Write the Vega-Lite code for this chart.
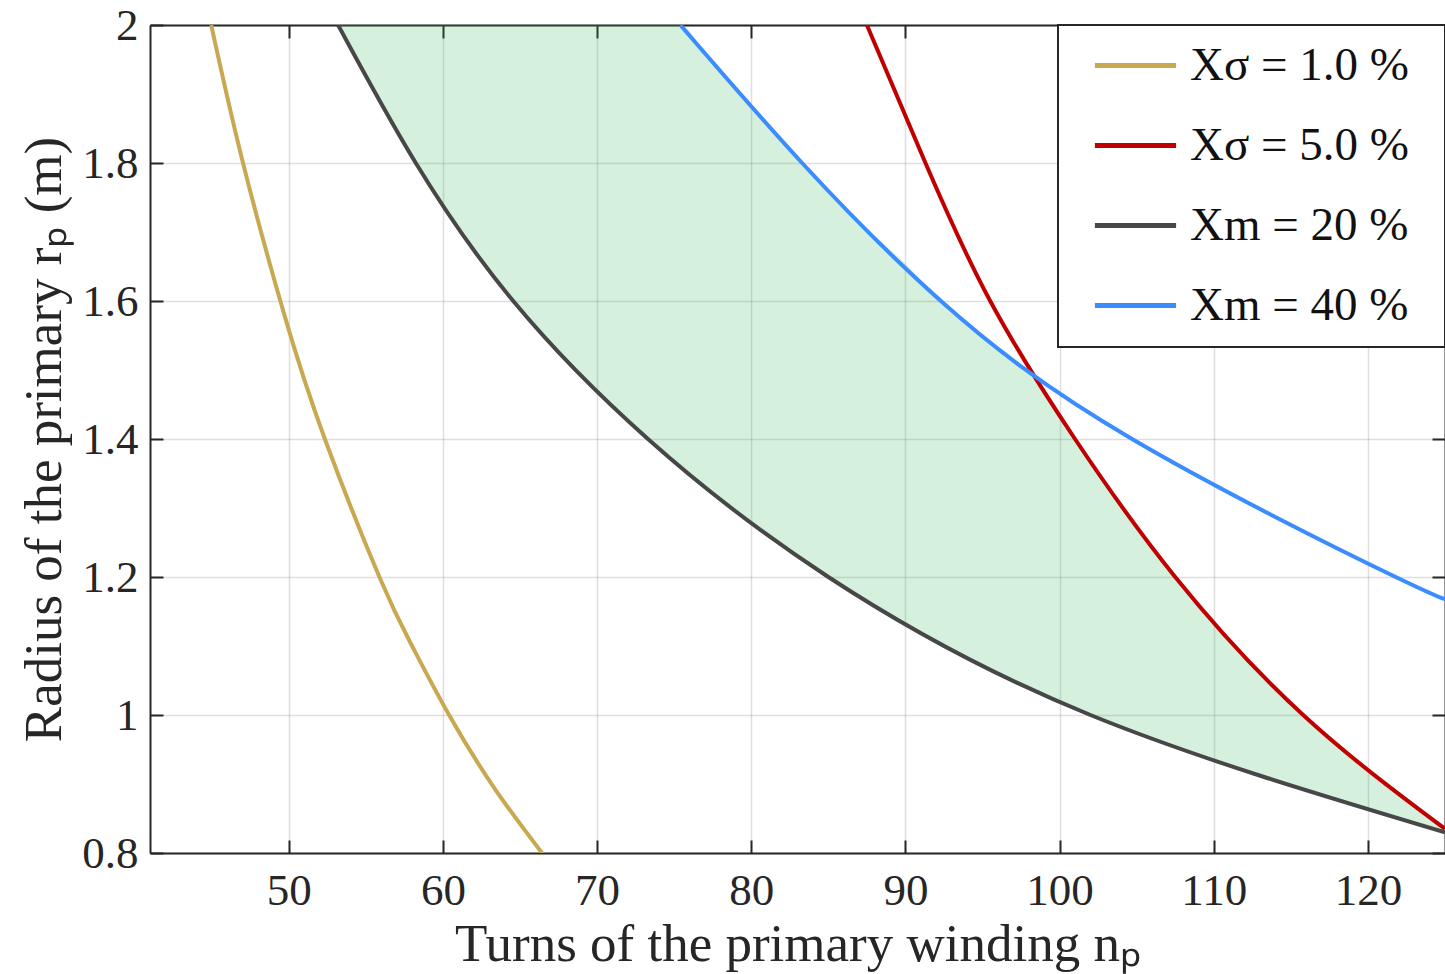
{
  "$schema": "https://vega.github.io/schema/vega-lite/v6.json",
  "width": 1295,
  "height": 828,
  "autosize": "none",
  "padding": {"left": 150, "top": 25, "right": 0, "bottom": 121},
  "background": "white",
  "config": {
    "font": "Liberation Serif",
    "view": {"stroke": null},
    "axis": {
      "domainColor": "#262626",
      "domainWidth": 2,
      "tickColor": "#262626",
      "tickWidth": 2,
      "tickSize": -13,
      "gridColor": "#262626",
      "gridOpacity": 0.15,
      "gridWidth": 1.5,
      "labelFont": "Liberation Serif",
      "labelFontSize": 45,
      "labelColor": "#262626",
      "titleFont": "Liberation Serif",
      "titleFontSize": 53,
      "titleFontWeight": "normal",
      "titleColor": "#262626"
    }
  },
  "datasets": {
    "lines": [
      {"series": "Xσ = 1.0 %", "n": 44.97, "r": 2.0},
      {"series": "Xσ = 1.0 %", "n": 47.0, "r": 1.803},
      {"series": "Xσ = 1.0 %", "n": 49.7, "r": 1.581},
      {"series": "Xσ = 1.0 %", "n": 52.36, "r": 1.399},
      {"series": "Xσ = 1.0 %", "n": 55.9, "r": 1.199},
      {"series": "Xσ = 1.0 %", "n": 58.0, "r": 1.1},
      {"series": "Xσ = 1.0 %", "n": 60.4, "r": 1.0},
      {"series": "Xσ = 1.0 %", "n": 63.4, "r": 0.892},
      {"series": "Xσ = 1.0 %", "n": 66.6, "r": 0.795},
      {"series": "Xσ = 5.0 %", "n": 87.5, "r": 2.0},
      {"series": "Xσ = 5.0 %", "n": 91.3, "r": 1.8},
      {"series": "Xσ = 5.0 %", "n": 95.5, "r": 1.6},
      {"series": "Xσ = 5.0 %", "n": 101.0, "r": 1.4},
      {"series": "Xσ = 5.0 %", "n": 107.5, "r": 1.2},
      {"series": "Xσ = 5.0 %", "n": 115.8, "r": 1.0},
      {"series": "Xσ = 5.0 %", "n": 125.0, "r": 0.835},
      {"series": "Xm = 20 %", "n": 53.2, "r": 2.0},
      {"series": "Xm = 20 %", "n": 58.24, "r": 1.8},
      {"series": "Xm = 20 %", "n": 64.56, "r": 1.6},
      {"series": "Xm = 20 %", "n": 73.3, "r": 1.4},
      {"series": "Xm = 20 %", "n": 85.0, "r": 1.2},
      {"series": "Xm = 20 %", "n": 102.0, "r": 1.0},
      {"series": "Xm = 20 %", "n": 125.0, "r": 0.83},
      {"series": "Xm = 40 %", "n": 75.4, "r": 2.0},
      {"series": "Xm = 40 %", "n": 83.3, "r": 1.8},
      {"series": "Xm = 40 %", "n": 92.3, "r": 1.6},
      {"series": "Xm = 40 %", "n": 104.7, "r": 1.4},
      {"series": "Xm = 40 %", "n": 121.8, "r": 1.2},
      {"series": "Xm = 40 %", "n": 125.0, "r": 1.172}
    ],
    "band": [
      {"n": 53.2, "lo": 2.0, "hi": 2.0},
      {"n": 55.5, "lo": 1.904, "hi": 2.0},
      {"n": 58.24, "lo": 1.8, "hi": 2.0},
      {"n": 61.0, "lo": 1.707, "hi": 2.0},
      {"n": 64.56, "lo": 1.6, "hi": 2.0},
      {"n": 70.0, "lo": 1.469, "hi": 2.0},
      {"n": 73.3, "lo": 1.4, "hi": 2.0},
      {"n": 75.4, "lo": 1.359, "hi": 2.0},
      {"n": 77.2, "lo": 1.3265, "hi": 1.951},
      {"n": 79.0, "lo": 1.295, "hi": 1.904},
      {"n": 83.3, "lo": 1.226, "hi": 1.8},
      {"n": 85.0, "lo": 1.2, "hi": 1.76},
      {"n": 88.0, "lo": 1.159, "hi": 1.695},
      {"n": 90.0, "lo": 1.133, "hi": 1.654},
      {"n": 92.3, "lo": 1.105, "hi": 1.6},
      {"n": 95.0, "lo": 1.074, "hi": 1.551},
      {"n": 98.4, "lo": 1.036, "hi": 1.488},
      {"n": 101.0, "lo": 1.01, "hi": 1.4},
      {"n": 104.0, "lo": 0.982, "hi": 1.303},
      {"n": 107.5, "lo": 0.953, "hi": 1.2},
      {"n": 111.5, "lo": 0.922, "hi": 1.097},
      {"n": 115.8, "lo": 0.89, "hi": 1.0},
      {"n": 120.0, "lo": 0.862, "hi": 0.9165},
      {"n": 125.0, "lo": 0.83, "hi": 0.835}
    ]
  },
  "layer": [
    {
      "data": {"name": "band"},
      "mark": {"type": "area", "interpolate": "monotone", "color": "#2EB85C", "opacity": 0.2, "clip": true},
      "encoding": {
        "x": {
          "field": "n", "type": "quantitative",
          "scale": {"domain": [41, 125], "nice": false, "zero": false},
          "axis": {"orient": "top", "labels": false, "grid": false, "title": null, "values": [50, 60, 70, 80, 90, 100, 110, 120]}
        },
        "y": {
          "field": "hi", "type": "quantitative",
          "scale": {"domain": [0.8, 2], "nice": false, "zero": false},
          "axis": {"orient": "right", "labels": false, "grid": false, "title": null, "values": [0.8, 1, 1.2, 1.4, 1.6, 1.8, 2]}
        },
        "y2": {"field": "lo"}
      }
    },
    {
      "data": {"name": "lines"},
      "mark": {"type": "line", "interpolate": "natural", "strokeWidth": 4, "clip": true},
      "encoding": {
        "x": {
          "field": "n", "type": "quantitative",
          "scale": {"domain": [41, 125], "nice": false, "zero": false},
          "axis": {"orient": "bottom", "grid": true, "values": [50, 60, 70, 80, 90, 100, 110, 120], "labelPadding": 28, "title": "Turns of the primary winding nₚ", "titlePadding": 5}
        },
        "y": {
          "field": "r", "type": "quantitative",
          "scale": {"domain": [0.8, 2], "nice": false, "zero": false},
          "axis": {"orient": "left", "grid": true, "values": [0.8, 1, 1.2, 1.4, 1.6, 1.8, 2], "format": ".2~f", "labelPadding": 25, "title": "Radius of the primary rₚ (m)", "titlePadding": 10}
        },
        "color": {
          "field": "series", "type": "nominal",
          "scale": {"domain": ["Xσ = 1.0 %", "Xσ = 5.0 %", "Xm = 20 %", "Xm = 40 %"], "range": ["#C8A850", "#C00000", "#474747", "#3A8CFF"]},
          "legend": {
            "title": null,
            "orient": "top-right",
            "offset": 0,
            "padding": 3,
            "strokeColor": "#262626",
            "fillColor": "white",
            "symbolType": "M-1.16,0H1.16M0,-0.814M0,0.814M8.46,0",
            "symbolSize": 4900,
            "symbolStrokeWidth": 5,
            "symbolOffset": 37,
            "rowPadding": 3,
            "labelFont": "Liberation Serif",
            "labelFontSize": 47,
            "labelColor": "#111111",
            "labelOffset": 17,
            "labelLimit": 0,
            "encode": {"legend": {"update": {"strokeWidth": {"value": 2}}}}
          }
        }
      }
    }
  ],
  "resolve": {"axis": {"x": "independent", "y": "independent"}}
}
